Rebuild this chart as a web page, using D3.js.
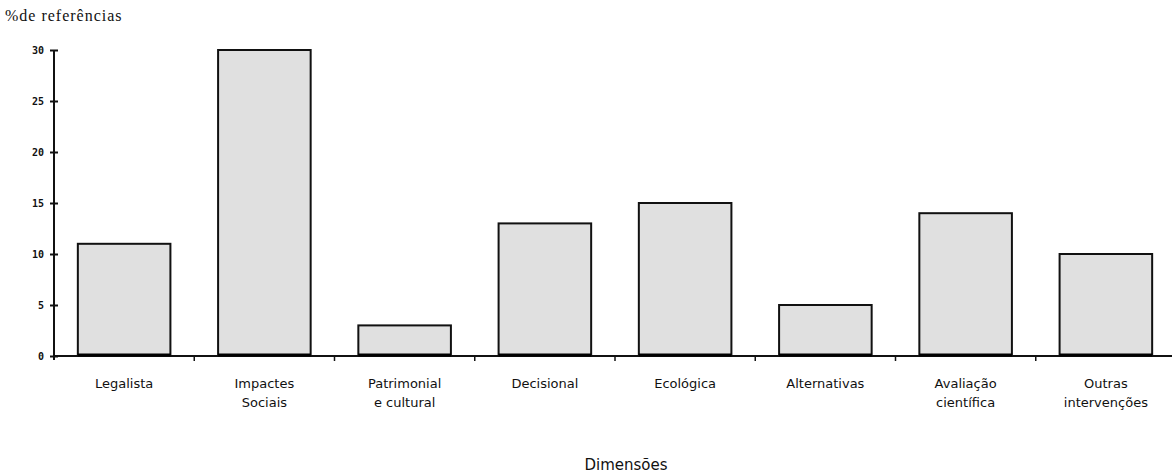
<!DOCTYPE html>
<html>
<head>
<meta charset="utf-8">
<script src="https://cdn.jsdelivr.net/npm/d3@7"></script>
<style>
  body { margin: 0; background: #fff; }
  svg { display: block; }
</style>
</head>
<body>
<svg id="chart" width="1172" height="474"></svg>
<script>
const categories = [
  ["Legalista"],
  ["Impactes", "Sociais"],
  ["Patrimonial", "e cultural"],
  ["Decisional"],
  ["Ecológica"],
  ["Alternativas"],
  ["Avaliação", "científica"],
  ["Outras", "intervenções"]
];
const values = [11, 30, 3, 13, 15, 5, 14, 10];
const yTicks = [0, 5, 10, 15, 20, 25, 30];

const margin = { top: 50, right: 0, bottom: 118, left: 54 };
const width = 1172, height = 474;

const svg = d3.select("#chart");

const x = d3.scaleBand()
  .domain(d3.range(values.length))
  .range([margin.left, 1176])
  .paddingInner(0.34)
  .paddingOuter(0.17);

const y = d3.scaleLinear()
  .domain([0, 30])
  .range([height - margin.bottom, margin.top]);

// bars
svg.append("g")
  .selectAll("rect")
  .data(values)
  .join("rect")
  .attr("x", (d, i) => x(i))
  .attr("y", d => y(d))
  .attr("width", x.bandwidth())
  .attr("height", d => y(0) - y(d))
  .attr("fill", "#e0e0e0")
  .attr("stroke", "#111")
  .attr("stroke-width", 2);

// x axis line + boundary ticks
const step = x.step();
const xg = svg.append("g");
xg.append("line")
  .attr("x1", margin.left).attr("x2", width)
  .attr("y1", y(0)).attr("y2", y(0))
  .attr("stroke", "#111").attr("stroke-width", 2);
xg.selectAll("line.tick")
  .data(d3.range(1, values.length))
  .join("line")
  .attr("class", "tick")
  .attr("x1", i => margin.left + i * step)
  .attr("x2", i => margin.left + i * step)
  .attr("y1", y(0))
  .attr("y2", y(0) + 5)
  .attr("stroke", "#111").attr("stroke-width", 1.5);

// thick bottoms of bars
svg.append("g")
  .selectAll("line")
  .data(values)
  .join("line")
  .attr("x1", (d, i) => x(i))
  .attr("x2", (d, i) => x(i) + x.bandwidth())
  .attr("y1", y(0) - 1).attr("y2", y(0) - 1)
  .attr("stroke", "#000").attr("stroke-width", 3);

// y axis
const yAxis = d3.axisLeft(y).tickValues(yTicks).tickSize(0).tickPadding(10);
const yg = svg.append("g")
  .attr("transform", `translate(${margin.left},0)`)
  .call(yAxis);
yg.select(".domain").attr("stroke", "#111").attr("stroke-width", 2)
  .attr("d", `M0,${y(0) + 4}V${y(30)}`);
yg.selectAll(".tick line")
  .attr("x1", -4).attr("x2", 4)
  .attr("stroke", "#111").attr("stroke-width", 2);
yg.selectAll(".tick text")
  .attr("x", -10)
  .style("font-family", "'DejaVu Sans Mono', monospace")
  .style("font-size", "10px")
  .style("font-weight", "bold")
  .attr("fill", "#111");

// category labels
const labels = svg.append("g")
  .style("font-family", "'DejaVu Sans', Arial, sans-serif")
  .style("font-size", "13px")
  .attr("fill", "#111");
categories.forEach((lines, i) => {
  const t = labels.append("text")
    .attr("x", x(i) + x.bandwidth() / 2)
    .attr("y", 388)
    .attr("text-anchor", "middle");
  lines.forEach((s, j) => {
    t.append("tspan")
      .attr("x", x(i) + x.bandwidth() / 2)
      .attr("dy", j === 0 ? 0 : 19)
      .text(s);
  });
});

// titles
svg.append("text")
  .attr("x", 626).attr("y", 470)
  .attr("text-anchor", "middle")
  .style("font-family", "'DejaVu Sans', Arial, sans-serif")
  .style("font-size", "15px")
  .attr("fill", "#111")
  .text("Dimensões");

svg.append("text")
  .attr("x", 5).attr("y", 21)
  .style("font-family", "'Liberation Serif', 'Times New Roman', serif")
  .style("font-size", "16px")
  .style("letter-spacing", "1px")
  .attr("fill", "#111")
  .text("%de referências");
</script>
</body>
</html>
